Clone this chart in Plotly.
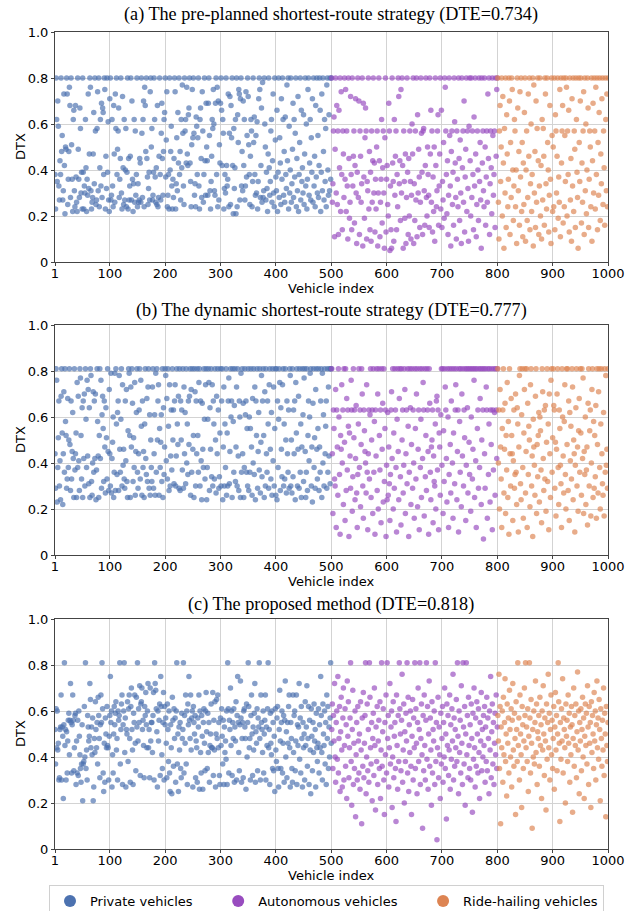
import plotly.graph_objects as go

# ---------------- data (DTX values x100, vehicle index order) ----------------
categories = ["Private vehicles", "Autonomous vehicles", "Ride-hailing vehicles"]
group_start = [1, 501, 801]
titles = [
    "(a) The pre-planned shortest-route strategy (DTE=0.734)",
    "(b) The dynamic shortest-route strategy (DTE=0.777)",
    "(c) The proposed method (DTE=0.818)",
]
x_ticks = [1, 100, 200, 300, 400, 500, 600, 700, 800, 900, 1000]
y_ticks = [0, 0.2, 0.4, 0.6, 0.8, 1.0]
y_ticklabels = ["0", "0.2", "0.4", "0.6", "0.8", "1.0"]

# (a) pre-planned shortest route
private_a = [
    38, 23, 80, 62, 35, 70, 59, 33, 27, 44, 38, 80, 48, 55, 27, 31, 73, 42, 21, 50, 49, 80, 73, 25, 36,
    48, 76, 68, 28, 80, 51, 36, 22, 62, 66, 31, 24, 68, 37, 26, 22, 80, 49, 36, 28, 67, 58, 30, 39, 23,
    80, 39, 23, 33, 30, 62, 41, 22, 36, 29, 73, 32, 47, 80, 76, 31, 23, 26, 28, 47, 65, 34, 80, 57, 25,
    27, 58, 74, 31, 80, 24, 41, 62, 33, 69, 28, 67, 65, 38, 80, 75, 23, 46, 32, 80, 39, 61, 27, 22, 71,
    80, 27, 29, 62, 33, 24, 68, 47, 26, 73, 58, 80, 38, 49, 57, 67, 28, 36, 45, 80, 30, 23, 72, 41, 25,
    62, 27, 40, 58, 24, 39, 80, 23, 45, 27, 33, 46, 80, 27, 70, 36, 22, 34, 62, 26, 57, 29, 38, 80, 24,
    34, 26, 27, 45, 43, 26, 80, 56, 28, 62, 70, 24, 76, 68, 48, 80, 45, 37, 25, 32, 39, 27, 74, 80, 50,
    58, 27, 29, 39, 80, 62, 37, 26, 41, 25, 68, 24, 28, 46, 80, 38, 27, 56, 69, 45, 29, 48, 62, 65, 80,
    37, 53, 74, 24, 29, 38, 23, 80, 40, 48, 59, 33, 23, 36, 28, 45, 80, 74, 23, 34, 54, 31, 65, 43, 80,
    38, 48, 27, 62, 41, 77, 56, 33, 25, 80, 57, 62, 43, 76, 47, 42, 64, 67, 80, 43, 35, 24, 51, 75, 54,
    80, 56, 29, 34, 24, 63, 59, 38, 54, 80, 33, 23, 62, 67, 45, 28, 74, 57, 26, 38, 80, 44, 29, 69, 50,
    44, 29, 69, 80, 55, 31, 23, 35, 46, 62, 58, 75, 60, 31, 29, 69, 80, 38, 76, 24, 70, 27, 51, 43, 69,
    80, 66, 42, 62, 56, 23, 32, 38, 30, 80, 42, 33, 36, 73, 24, 56, 72, 25, 68, 54, 80, 42, 21, 58, 32,
    41, 62, 21, 80, 24, 64, 52, 75, 73, 27, 71, 80, 33, 48, 31, 70, 42, 62, 27, 33, 74, 37, 55, 80, 72,
    51, 38, 25, 46, 62, 57, 24, 35, 80, 52, 63, 38, 29, 55, 30, 61, 23, 35, 71, 80, 75, 28, 42, 67, 26,
    78, 28, 31, 80, 60, 50, 27, 39, 32, 22, 47, 80, 41, 29, 35, 57, 62, 26, 44, 73, 30, 24, 80, 53, 37,
    31, 66, 22, 39, 80, 28, 54, 43, 25, 71, 36, 80, 62, 29, 48, 26, 63, 38, 32, 77, 44, 80, 23, 59, 30,
    40, 80, 26, 34, 49, 69, 28, 62, 37, 56, 80, 24, 45, 31, 72, 22, 38, 52, 80, 27, 66, 35, 41, 30, 64,
    25, 47, 80, 33, 60, 23, 36, 75, 80, 29, 43, 62, 27, 54, 39, 71, 26, 80, 33, 46, 24, 68, 37, 80, 30,
    55, 28, 42, 80, 66, 22, 39, 73, 31, 80, 48, 27, 62, 35, 58, 24, 77, 80, 40, 29, 64, 31, 80, 36, 80,
]
autonomous_a = [
    80, 26, 34, 57, 63, 11, 49, 80, 30, 68, 25, 57, 12, 66, 41, 80, 22, 74, 38, 14, 57, 47, 28, 80, 36,
    75, 22, 57, 33, 10, 80, 45, 19, 26, 72, 38, 14, 80, 33, 46, 57, 17, 42, 71, 30, 8, 39, 80, 28, 70,
    12, 57, 46, 26, 34, 80, 7, 69, 37, 19, 54, 67, 57, 10, 35, 31, 80, 23, 48, 14, 39, 9, 57, 26, 44,
    80, 30, 43, 13, 36, 23, 50, 57, 7, 30, 80, 44, 11, 26, 36, 62, 17, 41, 57, 30, 6, 54, 80, 13, 36,
    42, 25, 20, 69, 57, 5, 33, 14, 6, 80, 43, 35, 9, 62, 29, 46, 57, 14, 38, 24, 80, 72, 34, 44, 18,
    75, 30, 80, 42, 6, 57, 35, 19, 47, 8, 28, 80, 39, 12, 45, 20, 57, 35, 10, 29, 60, 47, 80, 8, 34,
    18, 57, 27, 80, 11, 64, 30, 49, 37, 15, 26, 80, 56, 39, 12, 57, 58, 31, 16, 42, 80, 28, 20, 50, 38,
    29, 15, 80, 47, 66, 26, 57, 13, 37, 22, 50, 9, 80, 42, 24, 31, 57, 64, 16, 33, 47, 80, 23, 66, 15,
    35, 27, 52, 19, 80, 76, 57, 38, 21, 44, 12, 29, 80, 55, 33, 7, 48, 57, 25, 39, 16, 80, 61, 43, 28,
    10, 57, 36, 24, 80, 45, 18, 53, 30, 8, 80, 41, 57, 26, 70, 13, 37, 49, 80, 22, 57, 32, 9, 59, 80,
    44, 20, 80, 28, 57, 38, 14, 63, 33, 80, 47, 11, 25, 57, 40, 18, 80, 35, 52, 27, 6, 80, 43, 57, 31,
    24, 80, 50, 16, 37, 57, 26, 73, 45, 80, 12, 34, 57, 41, 21, 80, 55, 29, 38, 57, 15, 80, 46, 75, 80,
]
ridehailing_a = [
    80, 26, 10, 57, 68, 35, 50, 80, 20, 72, 43, 6, 58, 30, 80, 15, 64, 47, 24, 36, 80, 70, 12, 52, 28,
    80, 75, 40, 18, 33, 62, 57, 24, 40, 8, 80, 67, 31, 48, 16, 74, 37, 80, 22, 52, 11, 43, 25, 65, 80,
    9, 40, 57, 18, 28, 73, 46, 80, 14, 34, 60, 22, 38, 80, 7, 77, 30, 48, 15, 70, 26, 58, 80, 44, 12,
    33, 80, 20, 42, 10, 62, 27, 58, 46, 16, 80, 73, 34, 23, 80, 52, 40, 13, 29, 68, 36, 8, 80, 55, 22,
    50, 24, 80, 14, 64, 57, 30, 46, 80, 19, 37, 26, 75, 11, 80, 43, 57, 68, 17, 80, 24, 55, 35, 80, 76,
    20, 57, 38, 66, 13, 80, 27, 45, 9, 71, 33, 80, 22, 57, 49, 15, 80, 62, 39, 28, 6, 80, 52, 35, 70,
    80, 17, 43, 26, 57, 74, 12, 80, 31, 60, 21, 40, 80, 67, 15, 36, 57, 50, 24, 80, 9, 44, 69, 30, 80,
    57, 23, 76, 38, 80, 14, 52, 29, 65, 80, 18, 47, 34, 71, 80, 25, 57, 41, 16, 80, 62, 31, 73, 24, 80,
]

# (b) dynamic shortest route
private_b = [
    44, 29, 81, 76, 23, 38, 51, 67, 30, 41, 24, 69, 81, 53, 22, 44, 71, 36, 81, 58, 52, 29, 33, 68, 38,
    50, 81, 48, 28, 67, 33, 45, 62, 42, 25, 81, 37, 44, 53, 25, 75, 38, 69, 41, 28, 81, 77, 52, 33, 64,
    25, 67, 42, 70, 30, 81, 59, 38, 76, 43, 72, 31, 64, 25, 81, 78, 32, 26, 40, 71, 36, 67, 42, 70, 24,
    37, 81, 58, 43, 25, 52, 81, 42, 76, 29, 61, 69, 55, 32, 67, 47, 27, 64, 51, 33, 81, 45, 28, 72, 44,
    30, 79, 27, 42, 49, 60, 25, 36, 79, 28, 81, 57, 35, 62, 67, 28, 78, 46, 36, 59, 81, 30, 74, 39, 46,
    33, 29, 67, 41, 72, 32, 25, 54, 81, 79, 52, 25, 73, 47, 81, 66, 32, 51, 38, 75, 26, 45, 62, 81, 36,
    29, 44, 63, 81, 33, 76, 56, 26, 67, 38, 45, 25, 57, 81, 42, 35, 68, 32, 73, 81, 29, 61, 26, 50, 38,
    32, 73, 81, 29, 44, 61, 26, 79, 36, 81, 50, 67, 74, 26, 55, 38, 49, 61, 32, 81, 25, 64, 35, 47, 81,
    78, 41, 68, 33, 81, 56, 28, 74, 30, 43, 63, 37, 81, 50, 63, 31, 67, 74, 30, 43, 81, 57, 48, 69, 29,
    81, 28, 67, 50, 63, 37, 81, 29, 73, 44, 62, 31, 81, 40, 57, 35, 67, 48, 69, 81, 26, 72, 36, 81, 46,
    52, 25, 81, 71, 30, 67, 44, 81, 52, 36, 75, 81, 30, 67, 41, 24, 66, 46, 38, 81, 59, 33, 74, 81, 24,
    38, 59, 81, 75, 28, 64, 46, 81, 34, 74, 30, 67, 57, 33, 81, 50, 27, 69, 44, 81, 63, 29, 34, 53, 81,
    30, 67, 81, 24, 47, 73, 30, 57, 38, 81, 26, 53, 30, 67, 77, 31, 45, 81, 60, 67, 25, 81, 58, 36, 65,
    81, 32, 47, 73, 30, 81, 43, 28, 67, 60, 25, 79, 36, 81, 44, 66, 25, 38, 81, 61, 67, 36, 55, 30, 81,
    28, 60, 36, 55, 81, 47, 26, 68, 40, 81, 35, 73, 24, 67, 52, 81, 29, 45, 62, 37, 81, 27, 49, 78, 34,
    67, 81, 52, 25, 71, 30, 81, 44, 36, 67, 57, 29, 74, 81, 46, 33, 62, 26, 81, 41, 73, 30, 55, 81, 26,
    81, 24, 67, 38, 59, 81, 75, 28, 64, 46, 34, 74, 81, 30, 57, 33, 81, 50, 27, 67, 44, 36, 63, 29, 81,
    78, 30, 50, 27, 81, 34, 63, 44, 67, 24, 75, 53, 81, 30, 46, 69, 29, 81, 36, 57, 25, 47, 81, 61, 32,
    77, 81, 45, 25, 36, 81, 28, 52, 67, 41, 60, 79, 81, 30, 47, 23, 66, 81, 38, 51, 29, 72, 81, 46, 33,
    55, 81, 28, 47, 36, 67, 81, 25, 79, 40, 61, 30, 81, 44, 56, 67, 29, 81, 36, 73, 43, 81, 31, 81, 81,
]
autonomous_b = [
    81, 44, 18, 63, 55, 33, 30, 72, 12, 63, 47, 26, 81, 60, 35, 9, 52, 46, 74, 40, 63, 22, 81, 49, 15,
    81, 28, 68, 37, 63, 56, 8, 53, 43, 29, 76, 63, 19, 34, 81, 51, 63, 24, 42, 65, 27, 12, 35, 57, 81,
    38, 63, 21, 48, 81, 70, 30, 16, 63, 54, 45, 40, 27, 74, 36, 11, 44, 63, 33, 61, 81, 25, 50, 63, 18,
    81, 36, 58, 9, 63, 43, 81, 28, 70, 20, 81, 52, 37, 63, 14, 81, 46, 66, 23, 81, 32, 55, 63, 8, 39,
    24, 62, 26, 47, 31, 15, 35, 63, 71, 42, 81, 20, 53, 29, 81, 63, 38, 10, 59, 81, 45, 24, 68, 81, 34,
    13, 81, 50, 63, 27, 39, 81, 72, 18, 44, 63, 31, 81, 56, 8, 36, 81, 64, 22, 48, 81, 29, 63, 40, 16,
    81, 55, 33, 70, 81, 21, 46, 63, 11, 81, 38, 59, 25, 81, 42, 75, 63, 17, 81, 34, 52, 28, 81, 63, 45,
    9, 81, 66, 36, 24, 47, 50, 63, 14, 43, 32, 30, 57, 20, 67, 69, 37, 63, 11, 53, 47, 26, 61, 81, 39,
    81, 18, 54, 32, 81, 73, 63, 42, 23, 81, 60, 12, 35, 81, 48, 27, 67, 81, 40, 16, 53, 81, 31, 63, 74,
    81, 24, 45, 63, 10, 81, 58, 36, 81, 21, 70, 43, 81, 30, 63, 51, 81, 15, 39, 81, 64, 27, 81, 49, 35,
    81, 19, 60, 81, 33, 46, 81, 76, 25, 81, 41, 12, 81, 55, 63, 29, 81, 38, 68, 81, 22, 50, 81, 63, 7,
    81, 44, 29, 81, 73, 63, 16, 81, 35, 57, 81, 23, 63, 48, 81, 11, 63, 37, 81, 62, 26, 81, 63, 42, 81,
]
ridehailing_b = [
    81, 40, 63, 20, 72, 47, 33, 12, 55, 63, 81, 27, 46, 66, 18, 52, 37, 75, 25, 58, 9, 81, 44, 30, 68,
    52, 44, 15, 41, 63, 29, 35, 70, 36, 22, 64, 57, 10, 47, 78, 81, 31, 24, 61, 81, 38, 16, 53, 72, 81,
    27, 45, 81, 12, 66, 35, 56, 50, 21, 74, 81, 30, 43, 8, 59, 47, 39, 26, 69, 81, 18, 48, 34, 52, 62,
    23, 60, 54, 37, 14, 81, 71, 42, 28, 63, 33, 65, 19, 49, 81, 32, 57, 11, 70, 44, 25, 76, 81, 36, 51,
    81, 65, 63, 29, 49, 17, 46, 70, 81, 38, 22, 63, 55, 39, 31, 12, 81, 60, 43, 27, 58, 74, 35, 20, 81,
    48, 81, 28, 67, 15, 62, 41, 56, 33, 81, 73, 24, 50, 44, 10, 39, 64, 81, 30, 47, 19, 54, 68, 36, 81,
    53, 26, 81, 42, 77, 18, 45, 35, 60, 22, 37, 47, 13, 66, 81, 30, 54, 63, 17, 40, 72, 81, 25, 58, 29,
    52, 34, 65, 16, 81, 48, 27, 71, 81, 38, 20, 57, 81, 44, 31, 26, 62, 17, 81, 36, 78, 39, 46, 29, 81,
]

# (c) proposed method
private_c = [
    52, 37, 61, 44, 60, 43, 46, 30, 31, 52, 53, 67, 30, 53, 49, 22, 54, 81, 45, 52, 30, 51, 33, 47, 56,
    59, 41, 56, 72, 55, 33, 54, 67, 56, 34, 44, 58, 59, 28, 47, 33, 56, 32, 60, 49, 41, 35, 29, 37, 54,
    21, 37, 38, 62, 40, 81, 35, 43, 30, 58, 53, 47, 49, 72, 65, 44, 53, 41, 57, 21, 27, 48, 42, 64, 52,
    44, 55, 37, 66, 58, 48, 31, 54, 67, 55, 81, 61, 33, 25, 46, 29, 57, 50, 44, 62, 45, 44, 30, 49, 58,
    75, 55, 60, 27, 41, 33, 50, 62, 54, 59, 64, 43, 48, 30, 60, 56, 58, 81, 37, 52, 63, 67, 28, 54, 60,
    81, 42, 57, 27, 52, 50, 64, 38, 61, 67, 48, 29, 62, 70, 52, 43, 28, 59, 55, 67, 46, 34, 66, 53, 81,
    47, 61, 55, 71, 32, 63, 64, 70, 52, 56, 45, 31, 62, 58, 68, 54, 44, 60, 72, 44, 52, 31, 70, 47, 55,
    55, 42, 58, 68, 30, 81, 72, 69, 61, 51, 27, 60, 47, 56, 63, 32, 75, 62, 41, 35, 55, 68, 30, 62, 54,
    57, 46, 31, 63, 52, 38, 60, 33, 25, 54, 44, 24, 66, 56, 36, 61, 48, 57, 29, 60, 81, 37, 50, 25, 53,
    43, 55, 35, 31, 59, 48, 52, 81, 33, 58, 46, 67, 37, 60, 28, 63, 54, 75, 56, 48, 67, 43, 57, 60, 27,
    62, 55, 50, 58, 31, 47, 44, 29, 57, 53, 67, 26, 60, 42, 33, 58, 49, 26, 55, 61, 46, 34, 60, 68, 51,
    35, 59, 42, 55, 29, 45, 50, 63, 44, 44, 68, 32, 56, 43, 64, 27, 50, 65, 48, 67, 44, 55, 32, 28, 57,
    45, 61, 49, 37, 56, 28, 53, 42, 47, 39, 60, 28, 81, 61, 33, 56, 52, 70, 45, 60, 32, 55, 48, 61, 29,
    53, 47, 64, 30, 58, 75, 55, 42, 34, 54, 73, 57, 29, 48, 55, 31, 60, 61, 53, 48, 26, 63, 40, 55, 81,
    62, 44, 48, 30, 58, 67, 50, 32, 53, 43, 59, 72, 29, 51, 46, 61, 34, 57, 53, 81, 48, 30, 67, 55, 52,
    42, 60, 33, 50, 56, 67, 30, 53, 45, 61, 81, 44, 52, 28, 59, 46, 41, 60, 35, 55, 34, 49, 25, 61, 43,
    38, 57, 62, 35, 27, 52, 69, 47, 35, 55, 60, 33, 46, 58, 29, 56, 73, 40, 51, 31, 55, 46, 62, 67, 44,
    27, 55, 48, 35, 29, 67, 42, 58, 60, 34, 47, 67, 28, 54, 45, 53, 72, 39, 57, 33, 62, 48, 27, 55, 44,
    50, 30, 64, 45, 53, 71, 36, 48, 62, 28, 56, 43, 24, 61, 49, 34, 55, 42, 63, 47, 52, 27, 59, 44, 38,
    46, 61, 33, 54, 44, 75, 58, 42, 30, 63, 50, 45, 60, 37, 55, 28, 67, 48, 62, 35, 53, 40, 57, 81, 46,
]
autonomous_c = [
    52, 63, 35, 58, 47, 72, 40, 29, 55, 60, 39, 75, 33, 48, 62, 25, 51, 66, 43, 27, 57, 70, 30, 45, 61,
    36, 54, 22, 73, 49, 64, 31, 44, 57, 81, 38, 19, 52, 69, 28, 46, 35, 60, 14, 41, 55, 30, 62, 47, 33,
    50, 26, 64, 43, 11, 57, 36, 68, 31, 46, 58, 81, 24, 40, 63, 34, 52, 29, 81, 66, 44, 37, 55, 21, 48,
    59, 32, 70, 45, 17, 53, 38, 62, 28, 47, 56, 35, 64, 22, 43, 81, 36, 51, 61, 30, 15, 55, 41, 67, 33,
    81, 48, 58, 27, 44, 72, 37, 53, 60, 18, 40, 64, 31, 49, 55, 35, 12, 67, 45, 26, 58, 38, 81, 61, 50,
    34, 56, 76, 29, 43, 63, 20, 51, 38, 59, 47, 81, 33, 66, 25, 54, 42, 60, 36, 15, 49, 65, 30, 57, 44,
    81, 35, 61, 46, 24, 55, 70, 38, 52, 81, 28, 48, 63, 41, 9, 58, 34, 67, 45, 30, 56, 81, 39, 62, 26,
    50, 73, 36, 57, 43, 19, 64, 33, 52, 47, 60, 28, 81, 38, 55, 4, 44, 66, 31, 53, 41, 22, 59, 37, 48,
    62, 29, 55, 40, 70, 35, 50, 13, 63, 45, 58, 32, 43, 67, 26, 54, 39, 61, 47, 76, 30, 57, 36, 52, 44,
    65, 38, 81, 49, 24, 60, 42, 56, 33, 71, 46, 28, 81, 53, 37, 62, 19, 50, 81, 41, 58, 31, 66, 45, 35,
    54, 30, 63, 48, 16, 59, 39, 70, 44, 27, 57, 36, 64, 50, 33, 61, 42, 22, 55, 47, 68, 34, 52, 40, 58,
    45, 62, 29, 53, 38, 66, 34, 57, 48, 24, 60, 43, 75, 31, 51, 63, 37, 55, 28, 46, 59, 41, 67, 35, 53,
]
ridehailing_c = [
    58, 47, 76, 35, 62, 11, 53, 44, 60, 29, 66, 41, 55, 74, 38, 50, 23, 63, 46, 57, 33, 69, 52, 40, 61,
    27, 56, 72, 43, 36, 59, 48, 15, 64, 52, 38, 81, 45, 57, 30, 67, 50, 41, 18, 62, 54, 35, 47, 70, 58,
    81, 44, 53, 38, 61, 25, 49, 81, 57, 33, 65, 46, 9, 52, 40, 60, 37, 55, 73, 42, 63, 28, 51, 48, 58,
    36, 66, 45, 54, 22, 60, 43, 71, 50, 32, 57, 47, 17, 63, 39, 55, 76, 44, 59, 30, 52, 67, 41, 56, 35,
    48, 62, 26, 53, 68, 43, 58, 34, 50, 81, 64, 46, 12, 55, 39, 61, 47, 74, 33, 57, 52, 44, 20, 63, 49,
    56, 38, 67, 46, 59, 29, 53, 41, 62, 54, 16, 48, 70, 36, 58, 45, 63, 31, 51, 77, 43, 60, 24, 55, 47,
    61, 34, 52, 66, 40, 57, 22, 49, 63, 45, 59, 37, 71, 53, 28, 62, 46, 55, 18, 64, 42, 58, 50, 35, 68,
    47, 60, 30, 54, 73, 44, 57, 39, 65, 52, 21, 61, 48, 36, 56, 43, 70, 32, 59, 50, 14, 62, 45, 38, 55,
]

panels = [
    [private_a, autonomous_a, ridehailing_a],
    [private_b, autonomous_b, ridehailing_b],
    [private_c, autonomous_c, ridehailing_c],
]

# ---------------- styling ----------------
colors = ["#4c72b0", "#984cbf", "#dd8452"]
W, H = 641, 911
px_left, px_right = 55, 608
panel_px = [(32, 262), (325, 555), (619, 849)]   # (top, bottom) in pixels
title_px = [15, 310, 604]
xlabel_px = [288, 581, 875]
sans = "DejaVu Sans"
serif = "Liberation Serif"
NB = "\u00a0"
legend_names = [categories[0] + NB * 5, categories[1] + NB * 5, categories[2]]

fig = go.Figure()

for p, groups in enumerate(panels):
    ax = "" if p == 0 else str(p + 1)
    for g, vals in enumerate(groups):
        xs = list(range(group_start[g], group_start[g] + len(vals)))
        ys = [v / 100 for v in vals]
        fig.add_trace(go.Scatter(
            x=xs, y=ys, mode="markers",
            marker=dict(size=5.5, color=colors[g], opacity=0.68, line=dict(width=0)),
            xaxis="x" + ax, yaxis="y" + ax, showlegend=False, hoverinfo="skip",
        ))

# legend entries
for g, name in enumerate(legend_names):
    fig.add_trace(go.Scatter(
        x=[None], y=[None], mode="markers", name=name,
        marker=dict(size=6, color=colors[g]), xaxis="x3", yaxis="y3", showlegend=True,
    ))

layout = dict(
    width=W, height=H, margin=dict(l=0, r=0, t=0, b=0, autoexpand=False),
    paper_bgcolor="white", plot_bgcolor="white",
    font=dict(family=sans, size=13, color="black"),
    legend=dict(
        orientation="h", x=49 / W, y=1 - 885 / H, xanchor="left", yanchor="top",
        bordercolor="#d0d0d0", borderwidth=1, bgcolor="white",
        font=dict(family=sans, size=13, color="black"), itemsizing="constant",
    ),
    annotations=[],
)

for p in range(3):
    top, bot = panel_px[p]
    ax = "" if p == 0 else str(p + 1)
    layout["xaxis" + ax] = dict(
        domain=[px_left / W, px_right / W], anchor="y" + ax, range=[1, 1000],
        tickvals=x_ticks, ticktext=[str(t) for t in x_ticks], automargin=False,
        showgrid=True, gridcolor="#d3d3d3", gridwidth=1, zeroline=False,
        showline=True, linecolor="#444444", linewidth=1, mirror=True,
        ticks="outside", ticklen=3, tickwidth=1, tickcolor="#444444",
        ticklabelstandoff=-4,
        tickfont=dict(family=sans, size=13, color="black"),
    )
    layout["yaxis" + ax] = dict(
        domain=[1 - bot / H, 1 - top / H], anchor="x" + ax, range=[0, 1],
        tickvals=y_ticks, ticktext=y_ticklabels, automargin=False,
        showgrid=True, gridcolor="#d3d3d3", gridwidth=1, zeroline=False,
        showline=True, linecolor="#444444", linewidth=1, mirror=True,
        ticks="outside", ticklen=3, tickwidth=1, tickcolor="#444444",
        tickfont=dict(family=sans, size=13, color="black"),
    )
    cx = (px_left + px_right) / 2 / W
    layout["annotations"].append(dict(
        text=titles[p], x=cx, y=1 - title_px[p] / H, xref="paper", yref="paper",
        xanchor="center", yanchor="middle", showarrow=False,
        font=dict(family=serif, size=18.2, color="black"),
    ))
    layout["annotations"].append(dict(
        text="Vehicle index", x=cx, y=1 - xlabel_px[p] / H, xref="paper", yref="paper",
        xanchor="center", yanchor="middle", showarrow=False,
        font=dict(family=sans, size=13, color="black"),
    ))
    layout["annotations"].append(dict(
        text="DTX", x=20 / W, y=1 - (top + bot) / 2 / H, xref="paper", yref="paper",
        xanchor="center", yanchor="middle", showarrow=False, textangle=-90,
        font=dict(family=sans, size=13, color="black"),
    ))

fig.update_layout(**layout)
fig.write_html(
    "out.html",
    config={"displayModeBar": False},
    post_script="document.body.style.margin='0px';document.body.style.overflow='hidden';",
)
